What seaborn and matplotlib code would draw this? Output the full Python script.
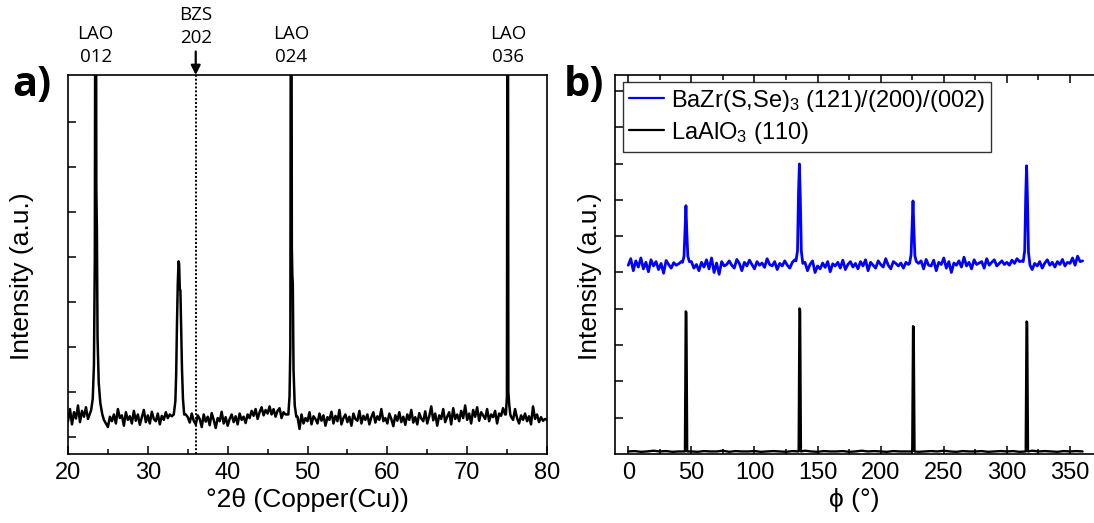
import numpy as np
import pandas as pd
import matplotlib
matplotlib.use("Agg")
import matplotlib.pyplot as plt
import seaborn as sns
from matplotlib.ticker import MultipleLocator, FixedLocator

# ---------------- data: panel a (2theta scan) ----------------
xrd_start = 20.0
xrd_step = 0.25
xrd_noise = [
    0.35, 0.62, 0.28, 0.55, 0.41, 0.70, 0.33, 0.58, 0.45, 0.66,
    0.40, 0.52, 0.60, 0.90, 1.00, 1.00, 0.70, 0.50, 0.38, 0.30,
    0.22, 0.45, 0.35, 0.50, 0.30, 0.62, 0.42, 0.48, 0.25, 0.55,
    0.38, 0.46, 0.30, 0.58, 0.36, 0.50, 0.27, 0.44, 0.60, 0.33,
    0.48, 0.30, 0.56, 0.40, 0.35, 0.52, 0.28, 0.47, 0.38, 0.55,
    0.42, 0.50, 0.46, 0.60, 0.80, 3.90, 3.30, 1.50, 0.55, 0.50,
    0.44, 0.32, 0.52, 0.36, 0.28, 0.48, 0.40, 0.22, 0.50, 0.34,
    0.45, 0.26, 0.53, 0.38, 0.20, 0.42, 0.35, 0.56, 0.30, 0.44,
    0.25, 0.40, 0.50, 0.33, 0.46, 0.28, 0.52, 0.38, 0.45, 0.31,
    0.50, 0.42, 0.58, 0.47, 0.62, 0.40, 0.55, 0.66, 0.48, 0.60,
    0.52, 0.68, 0.50, 0.62, 0.45, 0.58, 0.64, 0.42, 0.55, 0.50,
    0.50, 1.00, 12.0, 3.00, 0.80, 0.45, 0.18, 0.50, 0.30, 0.42,
    0.35, 0.55, 0.28, 0.46, 0.40, 0.30, 0.52, 0.36, 0.48, 0.25,
    0.44, 0.38, 0.56, 0.30, 0.47, 0.35, 0.60, 0.28, 0.42, 0.50,
    0.33, 0.45, 0.25, 0.52, 0.40, 0.36, 0.58, 0.30, 0.47, 0.38,
    0.50, 0.28, 0.44, 0.55, 0.32, 0.46, 0.38, 0.62, 0.35, 0.42,
    0.30, 0.52, 0.40, 0.24, 0.48, 0.36, 0.55, 0.33, 0.45, 0.27,
    0.50, 0.38, 0.60, 0.32, 0.44, 0.28, 0.53, 0.41, 0.35, 0.57,
    0.30, 0.46, 0.68, 0.37, 0.52, 0.25, 0.48, 0.40, 0.62, 0.33,
    0.45, 0.55, 0.28, 0.64, 0.40, 0.50, 0.35, 0.58, 0.42, 0.70,
    0.38, 0.52, 0.30, 0.60, 0.45, 0.66, 0.36, 0.55, 0.48, 0.40,
    0.62, 0.35, 0.50, 0.44, 0.58, 0.30, 0.52, 0.47, 0.64, 0.50,
    0.50, 0.60, 0.45, 0.38, 0.62, 0.42, 0.30, 0.48, 0.38, 0.52,
    0.35, 0.46, 0.28, 0.68, 0.40, 0.50, 0.33, 0.44, 0.36, 0.40, 0.38,
]
lao012_x = [22.9, 23.1, 23.25, 23.36, 23.43, 23.5, 23.55, 23.62, 23.7, 23.85, 24.05, 24.3]
lao012_y = [0.60, 0.85, 1.60, 4.00, 12.0, 12.0, 5.50, 4.60, 2.20, 1.20, 0.75, 0.50]
bzs_x = [33.25, 33.45, 33.55, 33.65, 33.75, 33.85, 33.92, 34.0, 34.08, 34.18, 34.28, 34.4, 34.55]
bzs_y = [0.50, 0.80, 1.40, 2.50, 3.40, 3.90, 3.85, 3.30, 3.25, 2.40, 1.50, 0.85, 0.50]
lao024_x = [47.6, 47.75, 47.85, 47.92, 47.98, 48.04, 48.1, 48.16, 48.25, 48.4, 48.6]
lao024_y = [0.50, 0.90, 2.00, 12.0, 12.0, 4.20, 3.60, 3.40, 1.50, 0.70, 0.45]
lao036_x = [74.85, 74.98, 75.06, 75.1, 75.16, 75.28, 75.4]
lao036_y = [0.50, 0.90, 12.0, 12.0, 1.00, 0.70, 0.50]
bzs_line_pos = 36.0
peak_labels = ["LAO\n012", "LAO\n024", "LAO\n036"]
peak_label_pos = [23.47, 47.98, 75.1]
bzs_label = "BZS\n202"

# ---------------- data: panel b (phi scans) ----------------
phi_step_blue = 2.0
blue_noise = [
    5.20, 5.38, 5.05, 5.32, 5.15, 5.40, 5.10, 5.28, 5.02, 5.35,
    5.18, 5.30, 5.08, 5.25, 4.98, 5.33, 5.22, 5.12, 5.27, 5.20,
    5.24, 5.30, 5.30, 5.30, 5.30, 5.30, 5.12, 5.22, 5.05, 5.28,
    5.15, 5.35, 5.10, 5.40, 5.00, 5.26, 4.95, 5.30, 5.18, 5.22,
    5.32, 5.20, 5.12, 5.36, 5.25, 5.05, 5.28, 5.18, 5.34, 5.22,
    5.10, 5.30, 5.20, 5.26, 5.14, 5.38, 5.22, 5.18, 5.30, 5.08,
    5.25, 5.18, 5.32, 5.20, 5.12, 5.28, 5.35, 5.30, 5.30, 5.30,
    5.28, 5.05, 5.22, 5.32, 5.00, 5.18, 5.10, 5.26, 5.14, 5.30,
    5.02, 5.24, 5.18, 5.28, 5.12, 5.34, 5.08, 5.22, 5.30, 5.15,
    5.25, 5.10, 5.30, 5.18, 5.35, 5.05, 5.28, 5.20, 5.12, 5.32,
    5.22, 5.15, 5.38, 5.20, 5.10, 5.30, 5.25, 5.18, 5.26, 5.12,
    5.28, 5.22, 5.30, 5.30, 5.30, 5.25, 5.32, 5.10, 5.36, 5.20,
    5.18, 5.34, 5.05, 5.28, 5.22, 5.40, 5.12, 5.30, 5.00, 5.26,
    5.20, 5.32, 5.15, 5.42, 5.18, 5.28, 5.10, 5.35, 5.22, 5.26,
    5.30, 5.12, 5.38, 5.20, 5.28, 5.35, 5.18, 5.25, 5.32, 5.22,
    5.28, 5.20, 5.34, 5.25, 5.38, 5.30, 5.32, 5.30, 5.30, 5.30,
    5.08, 5.25, 5.18, 5.30, 5.12, 5.26, 5.35, 5.20, 5.28, 5.15,
    5.30, 5.22, 5.36, 5.18, 5.28, 5.25, 5.40, 5.20, 5.45, 5.30,
    5.32,
]
blue_peak_centers = [45.7, 135.6, 225.6, 315.6]
blue_peak_offsets = [-2.7, -1.5, -0.7, 0.0, 0.7, 1.5, 2.7]
blue_peak_shapes = [
    [5.28, 5.45, 6.20, 6.84, 6.10, 5.45, 5.30],
    [5.32, 5.60, 7.20, 7.99, 7.10, 5.60, 5.25],
    [5.25, 5.50, 6.30, 6.97, 6.20, 5.45, 5.30],
    [5.30, 5.60, 7.10, 7.94, 7.00, 5.55, 5.20],
]
phi_step_black = 5.0
black_base = [
    0.07, 0.08, 0.06, 0.07, 0.09, 0.07, 0.08, 0.06, 0.07, 0.08,
    0.07, 0.06, 0.08, 0.07, 0.07, 0.09, 0.06, 0.08, 0.07, 0.07,
    0.08, 0.06, 0.07, 0.08, 0.07, 0.06, 0.08, 0.07, 0.09, 0.07,
    0.06, 0.08, 0.07, 0.07, 0.08, 0.06, 0.07, 0.09, 0.07, 0.08,
    0.07, 0.06, 0.08, 0.07, 0.07, 0.08, 0.06, 0.07, 0.08, 0.07,
    0.09, 0.07, 0.06, 0.08, 0.07, 0.07, 0.08, 0.06, 0.07, 0.08,
    0.07, 0.08, 0.06, 0.07, 0.09, 0.07, 0.08, 0.07, 0.06, 0.08,
    0.07, 0.08, 0.07,
]
black_peak_centers = [45.8, 135.9, 225.9, 315.8]
black_peak_offsets = [-0.9, -0.25, 0.25, 0.9]
black_peak_shapes = [
    [0.07, 3.93, 3.90, 0.07],
    [0.07, 4.01, 3.98, 0.07],
    [0.07, 3.52, 3.50, 0.07],
    [0.07, 3.65, 3.62, 0.07],
]
legend_labels = ["BaZr(S,Se)$_3$ (121)/(200)/(002)", "LaAlO$_3$ (110)"]


def merge(base_x, base_y, peaks):
    """Insert explicit peak points, dropping baseline samples under them."""
    bx = np.asarray(base_x, float)
    by = np.asarray(base_y, float)
    keep = np.ones(bx.size, bool)
    xs, ys = [], []
    for px, py in peaks:
        px = np.asarray(px, float)
        keep &= ~((bx >= px.min() - 0.05) & (bx <= px.max() + 0.05))
        xs.append(px)
        ys.append(np.asarray(py, float))
    x = np.concatenate([bx[keep]] + xs)
    y = np.concatenate([by[keep]] + ys)
    order = np.argsort(x, kind="stable")
    return pd.DataFrame({"x": x[order], "y": y[order]})


xrd_x = xrd_start + xrd_step * np.arange(len(xrd_noise))
df_a = merge(xrd_x, xrd_noise, [(lao012_x, lao012_y), (bzs_x, bzs_y),
                                (lao024_x, lao024_y), (lao036_x, lao036_y)])

blue_x = phi_step_blue * np.arange(len(blue_noise))
df_blue = merge(blue_x, blue_noise,
                [(c + np.array(blue_peak_offsets), s)
                 for c, s in zip(blue_peak_centers, blue_peak_shapes)])
black_x = phi_step_black * np.arange(len(black_base))
df_black = merge(black_x, black_base,
                 [(c + np.array(black_peak_offsets), s)
                  for c, s in zip(black_peak_centers, black_peak_shapes)])

# ---------------- style ----------------
sns.set_style("ticks")
plt.rcParams["font.family"] = ["Liberation Sans", "DejaVu Sans"]
plt.rcParams["mathtext.default"] = "regular"
plt.rcParams["axes.linewidth"] = 1.2
for key in ["text.color", "axes.labelcolor", "xtick.color", "ytick.color",
            "axes.edgecolor"]:
    plt.rcParams[key] = "black"

W, H = 1094, 523
fig = plt.figure(figsize=(W / 100, H / 100), dpi=100)
ax_a = fig.add_axes([68 / W, 1 - 454 / H, (547 - 68) / W, (454 - 75) / H])
ax_b = fig.add_axes([615 / W, 1 - 454 / H, (1094 - 615) / W, (454 - 75) / H])

# ---------------- panel a ----------------
sns.lineplot(data=df_a, x="x", y="y", ax=ax_a, color="black", lw=1.8,
             estimator=None, sort=False)
ax_a.axvline(bzs_line_pos, color="black", lw=1.4, ls=(0, (1, 1)))
ax_a.set_xlim(20, 80)
ax_a.set_ylim(-0.378, 8.04)
ax_a.xaxis.set_major_locator(MultipleLocator(10))
ax_a.xaxis.set_minor_locator(MultipleLocator(5))
ax_a.yaxis.set_major_locator(FixedLocator(range(0, 8)))
ax_a.tick_params(axis="x", which="both", direction="in", bottom=True, top=False,
                 labelsize=17, pad=6, width=1.1, colors="black")
ax_a.tick_params(axis="x", which="major", length=6)
ax_a.tick_params(axis="x", which="minor", length=3.5)
ax_a.tick_params(axis="y", which="both", direction="in", left=True, right=False,
                 labelleft=False, length=6, width=1.1, colors="black")
ax_a.set_xlabel("°2θ (Copper(Cu))", fontsize=19, labelpad=3, color="black")
ax_a.set_ylabel("Intensity (a.u.)", fontsize=19, color="black")
ax_a.yaxis.set_label_coords(-0.072, 0.47)

for lab, pos in zip(peak_labels, peak_label_pos):
    ax_a.text(pos, 1.077, lab, transform=ax_a.get_xaxis_transform(),
              ha="center", va="center", fontsize=13.5, family="Open Sans",
              linespacing=1.35, color="black")
ax_a.text(bzs_line_pos, 1.128, bzs_label, transform=ax_a.get_xaxis_transform(),
          ha="center", va="center", fontsize=13.5, family="Open Sans",
          linespacing=1.35, color="black")
ax_a.annotate("", xy=(bzs_line_pos, 1.0), xycoords=ax_a.get_xaxis_transform(),
              xytext=(bzs_line_pos, 1.062), textcoords=ax_a.get_xaxis_transform(),
              arrowprops=dict(arrowstyle="-|>", color="black", lw=1.6,
                              mutation_scale=14, shrinkA=0, shrinkB=0))

# ---------------- panel b ----------------
sns.lineplot(data=df_blue, x="x", y="y", ax=ax_b, color="#0000ff", lw=2.0,
             estimator=None, sort=False, label=legend_labels[0])
sns.lineplot(data=df_black, x="x", y="y", ax=ax_b, color="black", lw=1.7,
             estimator=None, sort=False, label=legend_labels[1])
ax_b.set_xlim(-10.5, 369)
ax_b.set_ylim(0, 10.44)
ax_b.xaxis.set_major_locator(MultipleLocator(50))
ax_b.xaxis.set_minor_locator(MultipleLocator(25))
ax_b.yaxis.set_major_locator(FixedLocator(range(1, 11)))
ax_b.tick_params(axis="x", which="both", direction="in", bottom=True, top=True,
                 labelsize=17, pad=6, width=1.1, colors="black")
ax_b.tick_params(axis="x", which="major", length=6)
ax_b.tick_params(axis="x", which="minor", length=3.5)
ax_b.tick_params(axis="y", which="both", direction="in", left=True, right=False,
                 labelleft=False, length=6, width=1.1, colors="black")
ax_b.spines["right"].set_visible(False)
ax_b.set_xlabel("ϕ (°)", fontsize=19, labelpad=3, color="black")
ax_b.set_ylabel("Intensity (a.u.)", fontsize=19, color="black")
ax_b.yaxis.set_label_coords(-0.027, 0.47)

leg = ax_b.legend(loc="upper left", bbox_to_anchor=(0.0167, 0.982),
                  borderaxespad=0, fontsize=17, frameon=True, fancybox=False,
                  handlelength=1.5, handletextpad=0.3, labelspacing=0.25,
                  borderpad=0.25)
leg.get_frame().set_edgecolor("black")
leg.get_frame().set_linewidth(1.0)
for t in leg.get_texts():
    t.set_color("black")
for h in leg.get_lines():
    h.set_linewidth(1.6)

# panel letters
fig.text(12 / W, 1 - 86 / H, "a)", fontsize=30, fontweight="bold",
         family="Open Sans", ha="left", va="center", color="black")
fig.text(564 / W, 1 - 86 / H, "b)", fontsize=30, fontweight="bold",
         family="Open Sans", ha="left", va="center", color="black")

fig.savefig("out.png", dpi=100)
